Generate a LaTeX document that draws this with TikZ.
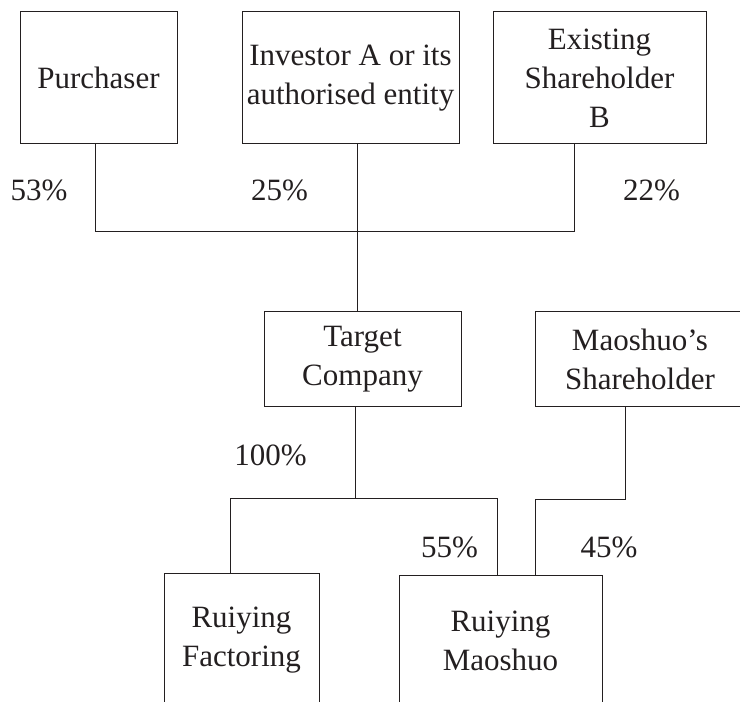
\documentclass[tikz,border=0pt]{standalone}
\usepackage{fontspec}
\setmainfont{Liberation Serif}

\definecolor{inkblack}{HTML}{231F20}

\tikzset{
    every entity/.style={draw=inkblack, line width=0.5pt, align=center, inner sep=0pt,
        text=inkblack, font=\fontsize{15.5}{19.5}\selectfont},
    every share/.style={inner sep=0pt, text=inkblack, font=\fontsize{15.5}{19.5}\selectfont},
    link/.style={draw=inkblack, line width=0.5pt}
}

\begin{document}
\begin{tikzpicture}[x=0.5pt, y=0.5pt]

            \path [use as bounding box, clip] (0,0) rectangle (740,702);

            % shareholders
            \node [every entity, minimum width=78.5pt, minimum height=66pt] (purchaser) at (98.5,624) {Purchaser};
            \node [every entity, minimum width=108.5pt, minimum height=66pt] (investor) at (350.5,624) {Investor A or its\\authorised entity};
            \node [every entity, minimum width=106.5pt, minimum height=66pt] (existing) at (599.5,624) {Existing\\Shareholder\\B};

            % companies
            \node [every entity, minimum width=98.5pt, minimum height=47.5pt] (target) at (362.5,342.5) {Target\\Company};
            \node [every entity, minimum width=105pt, minimum height=47.5pt] (maoshuo-holder) at (640,342.5) {Maoshuo’s\\Shareholder};
            \node [every entity, minimum width=77.5pt, minimum height=66pt] (factoring) at (241.5,62) {Ruiying\\Factoring};
            \node [every entity, minimum width=101.5pt, minimum height=65pt] (maoshuo) at (500.5,61) {Ruiying\\Maoshuo};

            % bends
            \coordinate (bus-left) at (95,470);
            \coordinate (bus-right) at (574,470);
            \coordinate (join) at (357,470);
            \coordinate (split) at (355,203);
            \coordinate (sub-left) at (230,203);
            \coordinate (sub-right) at (497,203);
            \coordinate (ms-bend) at (625,202);
            \coordinate (ms-foot) at (535,202);

            % links
            \draw [link] (bus-left |- purchaser.south) -- (bus-left) -- (bus-right) -- (bus-right |- existing.south);
            \draw [link] (join |- investor.south) -- (join |- target.north);
            \draw [link] (split |- target.south) -- (split);
            \draw [link] (sub-left |- factoring.north) -- (sub-left) -- (sub-right) -- (sub-right |- maoshuo.north);
            \draw [link] (ms-bend |- maoshuo-holder.south) -- (ms-bend) -- (ms-foot) -- (ms-foot |- maoshuo.north);

            %   label
            \foreach \p/\x/\y in {53/39/512, 25/279.5/512, 22/651.5/512, 100/270.5/247, 55/449.5/155, 45/609/155}
            \node [every share] (share-\p) at (\x,\y) {\p\%};

\end{tikzpicture}
\end{document}
